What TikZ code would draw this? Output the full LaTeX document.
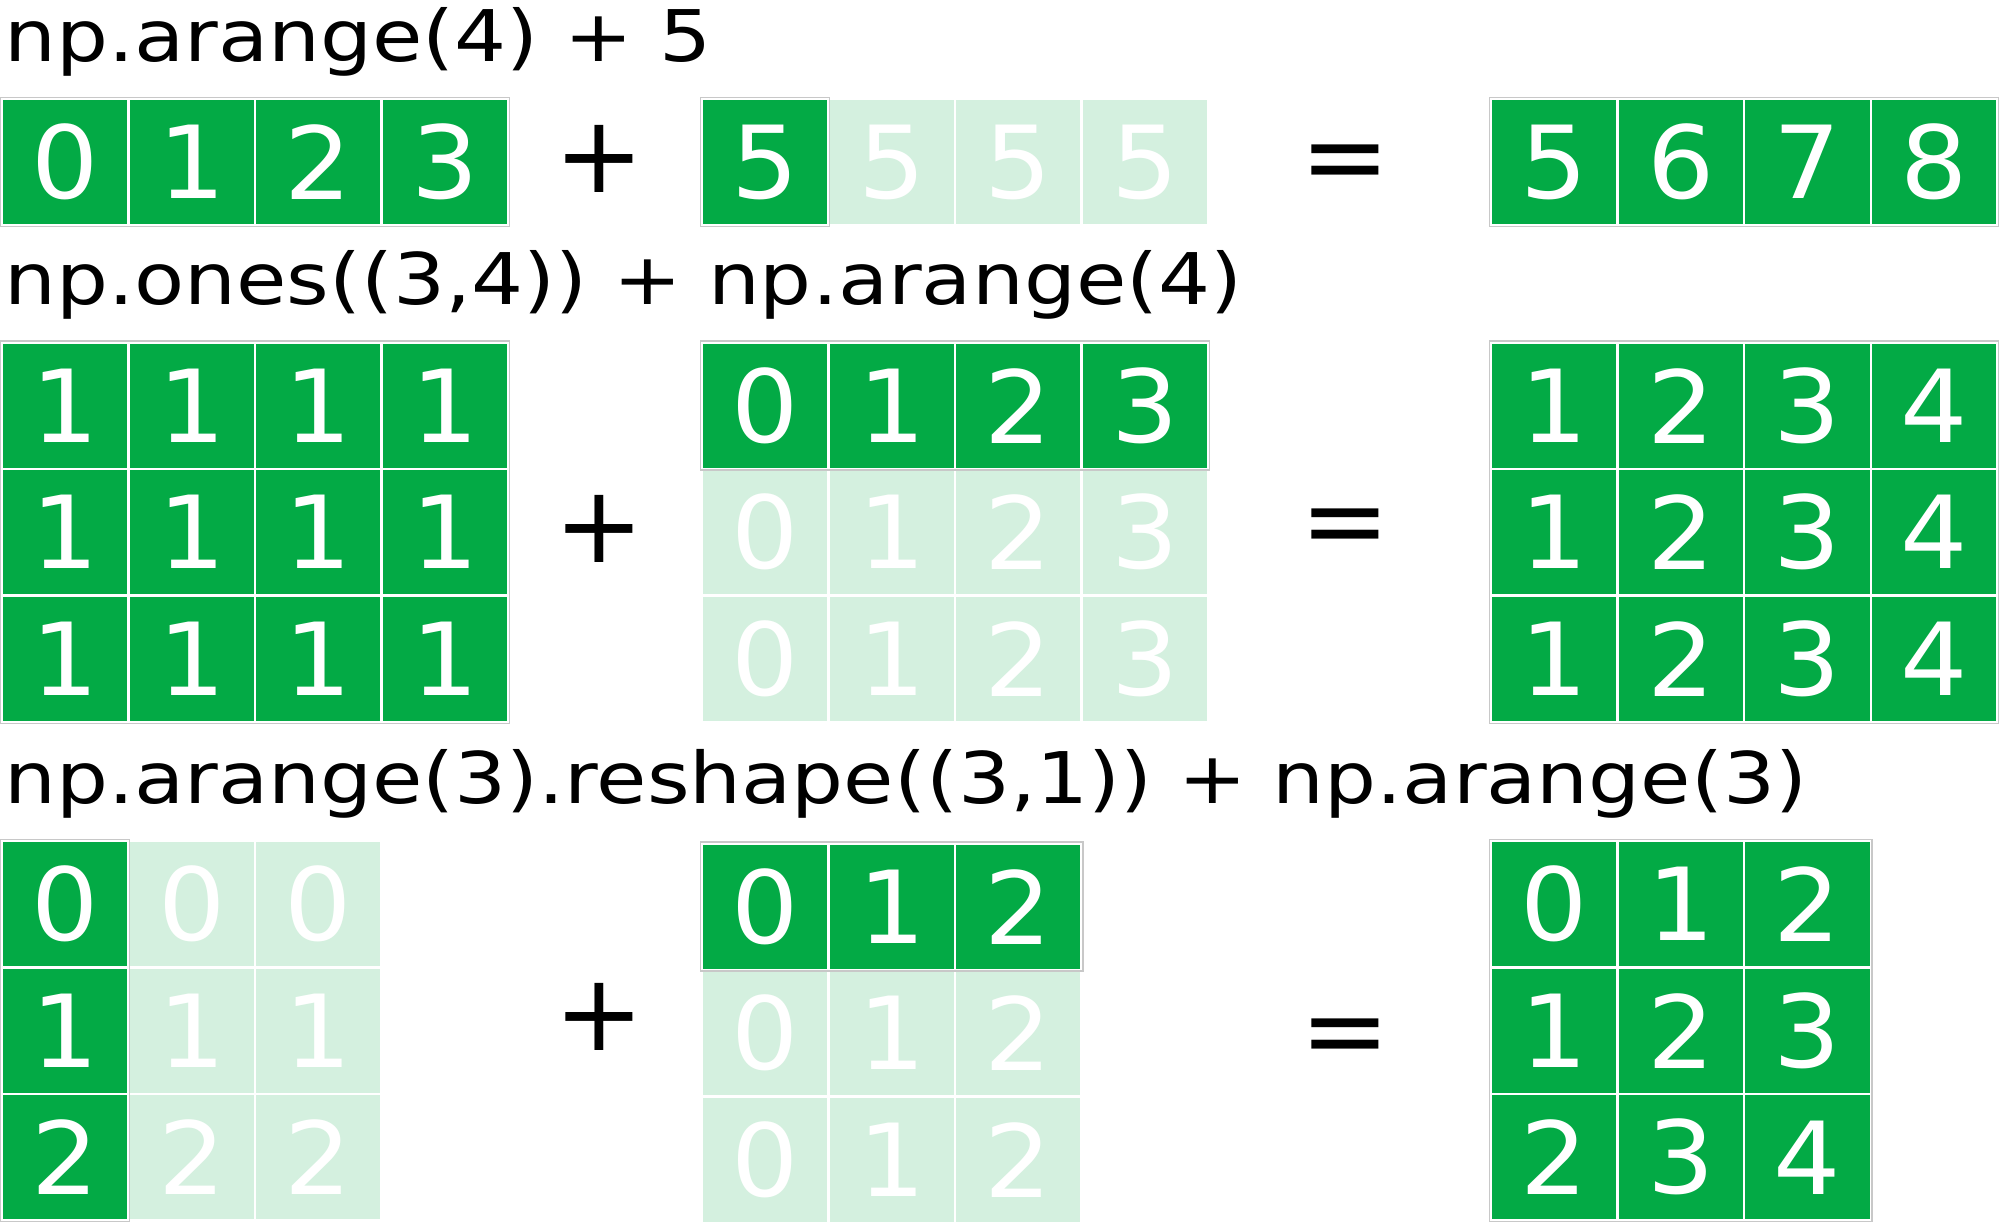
\documentclass[tikz,border=0pt]{standalone}
\usepackage{fontspec}
\setmainfont{DejaVu Sans}
\newfontfamily\cellfont{DejaVu Sans}[FakeStretch=1.05]
\newfontfamily\titlefont{DejaVu Sans}[FakeStretch=1.15]

\definecolor{npgreen}{RGB}{3,170,69}
\definecolor{nplight}{RGB}{212,240,223}
\definecolor{npedge}{RGB}{200,200,200}

\tikzset{
  cell/.style={minimum width=1.986cm, minimum height=1.986cm, inner sep=0pt,
    draw=white, line width=1.1pt, text=white,
    font=\cellfont\fontsize{45}{48}\selectfont},
  darkcell/.style={cell, fill=npgreen},
  lightcell/.style={cell, fill=nplight},
  title/.style={anchor=base west, inner sep=0pt,
    font=\titlefont\fontsize{31.8}{34}\selectfont},
  opsign/.style={inner sep=0pt, font=\fontsize{47.8}{50}\selectfont},
  groupedge/.style={draw=npedge, line width=0.6pt}
}

\begin{document}
\begin{tikzpicture}[x=0.02cm, y=-0.02cm]
  \useasboundingbox (0,0) rectangle (1568,961);

  % np.arange(4) + 5
  \node[title] (t1) at (3,48) {np.arange(4) + 5};
  \foreach \v [count=\c] in {0,1,2,3}
    \node[darkcell] (r1a-\c) at ({1.5+99.3*(\c-0.5)},127.2) {\v};
  \node[darkcell] (r1b-1) at ({550.5+99.3*0.5},127.2) {5};
  \foreach \c in {2,3,4}
    \node[lightcell] (r1b-\c) at ({550.5+99.3*(\c-0.5)},127.2) {5};
  \foreach \v [count=\c] in {5,6,7,8}
    \node[darkcell] (r1c-\c) at ({1169.5+99.3*(\c-0.5)},127.2) {\v};
  \draw[groupedge] (r1a-1.north west) rectangle (r1a-4.south east);
  \draw[groupedge] (r1b-1.north west) rectangle (r1b-1.south east);
  \draw[groupedge] (r1c-1.north west) rectangle (r1c-4.south east);
  \node[opsign] (plus1) at (470,125) {+};
  \node[opsign] (eq1) at (1055,133) {=};

  % np.ones((3,4)) + np.arange(4)
  \node[title] (t2) at (3,239) {np.ones((3,4)) + np.arange(4)};
  \foreach \r in {1,2,3}
    \foreach \c in {1,...,4}
      \node[darkcell] (r2a-\r-\c) at ({1.5+99.3*(\c-0.5)},{268.5+99.3*(\r-0.5)}) {1};
  \foreach \v [count=\c] in {0,1,2,3}
    \node[darkcell] (r2b-1-\c) at ({550.5+99.3*(\c-0.5)},{268.5+99.3*0.5}) {\v};
  \foreach \r in {2,3}
    \foreach \v [count=\c] in {0,1,2,3}
      \node[lightcell] (r2b-\r-\c) at ({550.5+99.3*(\c-0.5)},{268.5+99.3*(\r-0.5)}) {\v};
  \foreach \r in {1,2,3}
    \foreach \v [count=\c] in {1,2,3,4}
      \node[darkcell] (r2c-\r-\c) at ({1169.5+99.3*(\c-0.5)},{268.5+99.3*(\r-0.5)}) {\v};
  \draw[groupedge] (r2a-1-1.north west) rectangle (r2a-3-4.south east);
  \draw[groupedge] (r2b-1-1.north west) rectangle (r2b-1-4.south east);
  \draw[groupedge] (r2c-1-1.north west) rectangle (r2c-3-4.south east);
  \node[opsign] (plus2) at (470,415) {+};
  \node[opsign] (eq2) at (1055,418) {=};

  % np.arange(3).reshape((3,1)) + np.arange(3)
  \node[title] (t3) at (3,630) {np.arange(3).reshape((3,1)) + np.arange(3)};
  \foreach \r in {1,2,3} {
    \pgfmathtruncatemacro\v{\r-1}
    \node[darkcell] (r3a-\r-1) at ({1.5+99.3*0.5},{659.5+99.3*(\r-0.5)}) {\v};
    \foreach \c in {2,3}
      \node[lightcell] (r3a-\r-\c) at ({1.5+99.3*(\c-0.5)},{659.5+99.3*(\r-0.5)}) {\v};
  }
  \foreach \v [count=\c] in {0,1,2}
    \node[darkcell] (r3b-1-\c) at ({550.5+99.3*(\c-0.5)},{661.5+99.3*0.5}) {\v};
  \foreach \r in {2,3}
    \foreach \v [count=\c] in {0,1,2}
      \node[lightcell] (r3b-\r-\c) at ({550.5+99.3*(\c-0.5)},{661.5+99.3*(\r-0.5)}) {\v};
  \foreach \r in {1,2,3}
    \foreach \c in {1,2,3} {
      \pgfmathtruncatemacro\v{\r+\c-2}
      \node[darkcell] (r3c-\r-\c) at ({1169.5+99.3*(\c-0.5)},{659.5+99.3*(\r-0.5)}) {\v};
    }
  \draw[groupedge] (r3a-1-1.north west) rectangle (r3a-3-1.south east);
  \draw[groupedge] (r3b-1-1.north west) rectangle (r3b-1-3.south east);
  \draw[groupedge] (r3c-1-1.north west) rectangle (r3c-3-3.south east);
  \node[opsign] (plus3) at (470,798) {+};
  \node[opsign] (eq3) at (1055,818) {=};
\end{tikzpicture}
\end{document}
